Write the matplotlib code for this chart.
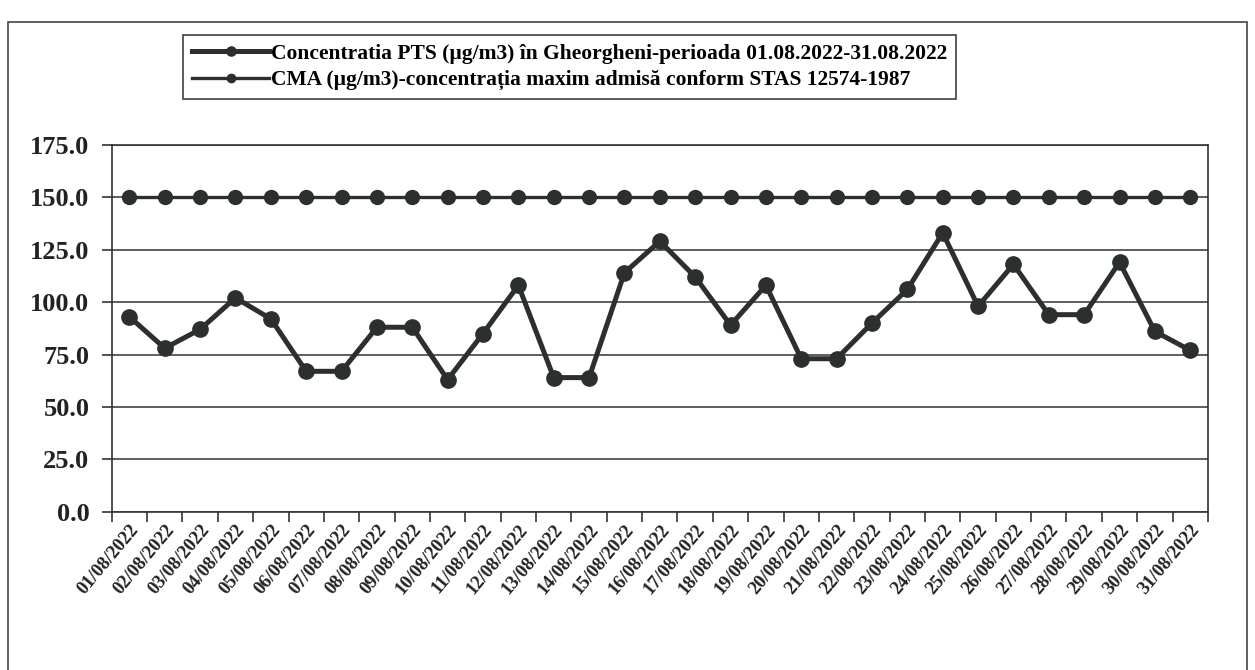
import numpy as np
import matplotlib.pyplot as plt
from matplotlib.patches import Rectangle

dates = [f'{d:02d}/08/2022' for d in range(1, 32)]
pts = [93, 78, 87, 102, 92, 67, 67, 88, 88, 63,
       85, 108, 64, 64, 114, 129, 112, 89, 108, 73,
       73, 90, 106, 133, 98, 118, 94, 94, 119, 86, 77]
cma = [150] * 31
yticks = [0, 25, 50, 75, 100, 125, 150, 175]

lab_pts = 'Concentratia PTS (µg/m3) în Gheorgheni-perioada 01.08.2022-31.08.2022'
lab_cma = 'CMA (µg/m3)-concentrația maxim admisă conform STAS 12574-1987'

plt.rcParams['font.family'] = ['Liberation Serif', 'DejaVu Serif']
plt.rcParams['font.weight'] = 'bold'
col = '#2b302f'

fig = plt.figure(figsize=(12.55, 6.7), dpi=100)
ax = fig.add_axes([0.089, 0.236, 0.8735, 0.548])

x = np.arange(len(dates))
ax.plot(x, pts, color=col, lw=3.6, marker='o', ms=11, label=lab_pts, zorder=4)
ax.plot(x, cma, color=col, lw=2.4, marker='o', ms=10, label=lab_cma, zorder=3)

ax.set_xlim(-0.5, len(dates) - 0.5)
ax.set_ylim(0, 175)
ax.set_yticks(yticks)
ax.set_yticklabels([f'{v:.1f}' for v in yticks], fontsize=19, fontweight='bold', color='#222')
ax.yaxis.grid(True, color='#333', lw=1.1)
ax.set_axisbelow(True)

# category ticks sit between the dates
ax.set_xticks(np.arange(-0.5, len(dates) + 0.5, 1), minor=False)
ax.set_xticklabels([])
ax.set_xticks(x, minor=True)
ax.set_xticklabels(dates, minor=True, rotation=50, ha='right', va='top',
                   rotation_mode='anchor', fontsize=13.5, fontweight='bold', color='#222')
ax.tick_params(axis='x', which='minor', length=0, pad=7)
ax.tick_params(axis='x', which='major', length=7, width=1.2, direction='out', color='#333')
ax.tick_params(axis='y', length=7, width=1.2, direction='out', color='#333', pad=9)
for s in ax.spines.values():
    s.set_color('#333')
    s.set_linewidth(1.2)

leg = fig.legend(loc='upper left', bbox_to_anchor=(0.146, 0.948), borderaxespad=0,
                 fancybox=False, edgecolor='#222', handlelength=3.6,
                 handletextpad=0.1, markerscale=0.6, labelspacing=0.3,
                 borderpad=0.4, prop={'weight': 'bold', 'size': 15.5})
leg.get_frame().set_linewidth(1.3)

fig.add_artist(Rectangle((0.006, -0.02), 0.988, 0.987, transform=fig.transFigure,
                         fill=False, edgecolor='#444', lw=1.2))

fig.savefig('out.png', dpi=100)
